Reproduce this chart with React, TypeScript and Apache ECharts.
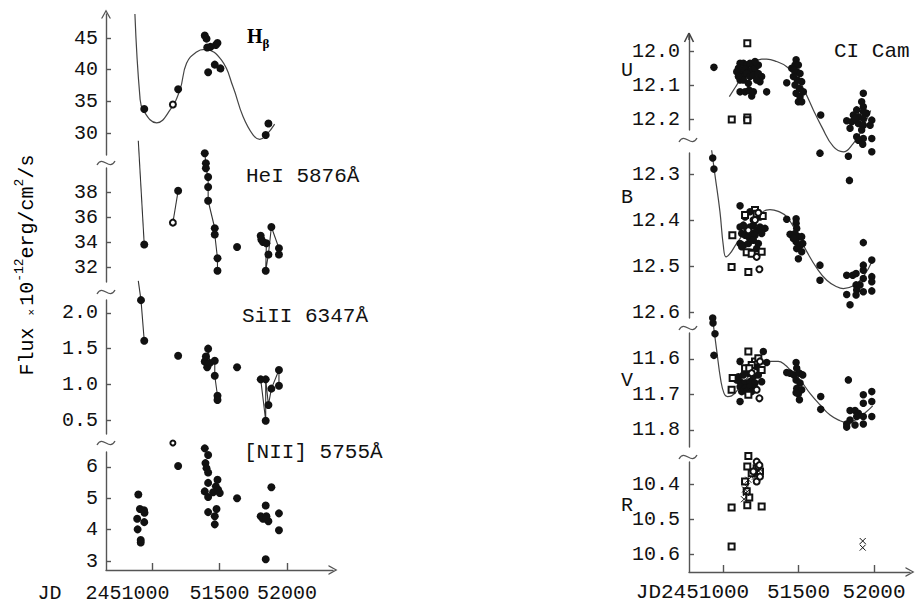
import React, { useEffect, useRef } from "react";
import * as echarts from "echarts";

// ---------- tick values ----------
const X_TICKS = [51000, 51500, 52000];
const HB_TICKS = [30, 35, 40, 45];
const HEI_TICKS = [32, 34, 36, 38];
const SI_TICKS = [0.5, 1.0, 1.5, 2.0];
const NII_TICKS = [3, 4, 5, 6];
const U_TICKS = [12.0, 12.1, 12.2];
const B_TICKS = [12.3, 12.4, 12.5, 12.6];
const V_TICKS = [11.6, 11.7, 11.8];
const R_TICKS = [10.4, 10.5, 10.6];

// ---------- left: line fluxes ----------
const hbFilled = [[50943, 33.8], [51194, 36.9], [51391, 45.4], [51404, 44.9], [51409, 43.5], [51433, 43.6], [51473, 43.9], [51485, 44.2], [51416, 39.6], [51465, 40.8], [51507, 40.2], [51842, 29.7], [51862, 31.5]];
const hbOpen = [[51155, 34.5]];
const hbCurve = [[50874, 48.8], [50911, 35.7], [50936, 33.6], [51035, 31.6], [51133, 33.6], [51207, 36.8], [51256, 41.0], [51330, 42.8], [51391, 43.2], [51515, 41.5], [51600, 37.3], [51674, 32.6], [51748, 29.7], [51798, 29.0], [51847, 29.7], [51908, 31.4]];

const heiLineA = [[50899, 42.1], [50943, 33.8]];
const heiLineB = [[51155, 35.55], [51194, 38.1]];
const heiLineC = [[51391, 41.1], [51399, 40.3], [51399, 39.9], [51416, 39.2], [51416, 38.4], [51416, 37.3], [51465, 35.1], [51465, 34.6], [51485, 32.7], [51485, 31.7]];
const heiLineD = [[51805, 34.5], [51810, 34.2], [51822, 34.0], [51847, 33.9], [51842, 31.7], [51862, 33.0], [51884, 35.2], [51940, 33.5], [51940, 33.0]];
const heiFilled = [[50943, 33.8], [51194, 38.1], ...heiLineC, [51630, 33.6], ...heiLineD];
const heiOpen = [[51155, 35.55]];

const siLineA = [[50899, 2.45], [50919, 2.18], [50943, 1.61]];
const siLineC = [[51391, 1.32], [51399, 1.39], [51409, 1.24], [51416, 1.50], [51428, 1.30], [51465, 1.33], [51465, 1.12], [51485, 0.84], [51485, 0.78]];
const siLineD = [[51805, 1.07], [51842, 0.49], [51842, 1.07], [51862, 0.71], [51884, 0.94], [51940, 1.20], [51940, 0.98]];
const siFilled = [[50919, 2.18], [50943, 1.61], [51194, 1.40], ...siLineC, [51630, 1.24], ...siLineD];

const niiFilled = [[50899, 5.12], [50911, 4.66], [50941, 4.62], [50945, 4.54], [50891, 4.35], [50943, 4.24], [50894, 4.01], [50917, 3.67], [50917, 3.59],
  [51194, 6.03],
  [51391, 6.59], [51416, 6.38], [51396, 6.12], [51404, 5.96], [51416, 5.82], [51416, 5.49], [51391, 5.22], [51416, 5.04], [51453, 5.19], [51485, 5.59], [51473, 5.38], [51490, 5.27], [51502, 5.17], [51416, 4.56], [51478, 4.66], [51465, 4.43], [51465, 4.17],
  [51630, 5.0],
  [51805, 4.43], [51822, 4.35], [51842, 4.77], [51847, 4.43], [51862, 4.27], [51847, 4.35], [51884, 5.35], [51940, 4.52], [51940, 3.98], [51842, 3.06]];
const niiOpen = [[51155, 6.76]];

// ---------- right: CI Cam photometry (magnitudes) ----------
const uFilled = [[50940, 12.048],
  [51113, 12.036], [51135, 12.036], [51157, 12.041], [51179, 12.036], [51201, 12.046], [51102, 12.051], [51124, 12.056], [51146, 12.054], [51168, 12.061], [51190, 12.056], [51212, 12.051], [51113, 12.071], [51135, 12.075], [51157, 12.066], [51179, 12.075], [51201, 12.071], [51234, 12.066], [51256, 12.075], [51245, 12.090], [51113, 12.085], [51135, 12.085], [51168, 12.095], [51223, 12.085], [51113, 12.120], [51146, 12.120], [51174, 12.115], [51190, 12.132], [51201, 12.120], [51289, 12.120], [51234, 12.041], [51212, 12.031], [51091, 12.061], [51102, 12.075],
  [51422, 12.093], [51455, 12.051], [51484, 12.026], [51477, 12.041], [51499, 12.041], [51488, 12.061], [51510, 12.066], [51466, 12.075], [51492, 12.085], [51521, 12.090], [51477, 12.100], [51506, 12.110], [51484, 12.124], [51510, 12.134], [51499, 12.149], [51532, 12.120], [51521, 12.149], [51470, 12.056],
  [51647, 12.188],
  [51929, 12.124], [51918, 12.149], [51929, 12.164], [51885, 12.173], [51951, 12.183], [51863, 12.188], [51896, 12.193], [51929, 12.198], [51985, 12.203], [51819, 12.205], [51852, 12.208], [51896, 12.213], [51929, 12.218], [51974, 12.218], [51841, 12.227], [51918, 12.232], [51885, 12.252], [51929, 12.257], [51985, 12.257], [51896, 12.262], [51874, 12.198], [51929, 12.178],
  [51642, 12.300], [51830, 12.309], [51985, 12.296], [51925, 12.274], [51837, 12.380]];
const uSquares = [[51161, 11.977], [51058, 12.201], [51161, 12.195], [51161, 12.203]];
const uCurve = [[51042, 12.134], [51091, 12.100], [51146, 12.061], [51201, 12.036], [51256, 12.024], [51289, 12.024], [51355, 12.031], [51422, 12.046], [51488, 12.075], [51543, 12.120], [51598, 12.173], [51653, 12.222], [51731, 12.281], [51797, 12.296], [51863, 12.271], [51907, 12.242], [51978, 12.175]];

const bFilled = [[50932, 12.265], [50940, 12.289], [51113, 12.369],
  [51113, 12.415], [51135, 12.411], [51157, 12.418], [51179, 12.415], [51201, 12.411], [51223, 12.422], [51245, 12.415], [51278, 12.418], [51124, 12.429], [51146, 12.433], [51168, 12.436], [51190, 12.429], [51212, 12.433], [51256, 12.429], [51113, 12.451], [51135, 12.455], [51168, 12.451], [51201, 12.444], [51234, 12.451], [51223, 12.462], [51190, 12.470], [51146, 12.393], [51179, 12.382], [51201, 12.400], [51245, 12.393], [51124, 12.458],
  [51422, 12.398], [51444, 12.431], [51484, 12.397], [51484, 12.407], [51488, 12.418], [51477, 12.429], [51499, 12.436], [51521, 12.436], [51484, 12.447], [51510, 12.455], [51488, 12.462], [51521, 12.469], [51499, 12.484], [51466, 12.440], [51528, 12.451],
  [51642, 12.498], [51642, 12.531],
  [51819, 12.520], [51859, 12.520], [51881, 12.516], [51929, 12.449], [51985, 12.487], [51929, 12.498], [51929, 12.509], [51929, 12.527], [51985, 12.523], [51985, 12.534], [51881, 12.541], [51929, 12.556], [51985, 12.554], [51819, 12.562], [51885, 12.552], [51881, 12.563], [51841, 12.584], [51907, 12.541]];
const bSquares = [[51062, 12.433], [51057, 12.502], [51168, 12.513], [51157, 12.470], [51256, 12.469], [51146, 12.389], [51212, 12.378], [51263, 12.391], [51190, 12.473], [51223, 12.386]];
const bCircles = [[51241, 12.507], [51223, 12.480], [51168, 12.422], [51212, 12.400], [51234, 12.384]];
const bCurve = [[50925, 12.248], [50947, 12.302], [50980, 12.382], [51002, 12.455], [51020, 12.480], [51046, 12.473], [51086, 12.453], [51180, 12.410], [51267, 12.381], [51311, 12.377], [51366, 12.381], [51422, 12.393], [51488, 12.427], [51554, 12.468], [51620, 12.504], [51687, 12.531], [51753, 12.545], [51797, 12.549], [51863, 12.543], [51929, 12.523], [51991, 12.487]];

const vFilled = [[50932, 11.485], [50934, 11.499], [50947, 11.529], [50940, 11.590],
  [51113, 11.607], [51267, 11.579],
  [51102, 11.650], [51135, 11.645], [51168, 11.640], [51201, 11.650], [51234, 11.645], [51256, 11.664], [51113, 11.664], [51146, 11.668], [51179, 11.664], [51212, 11.668], [51113, 11.678], [51146, 11.683], [51179, 11.678], [51212, 11.683], [51124, 11.692], [51157, 11.692], [51113, 11.720], [51190, 11.692], [51289, 11.610], [51245, 11.631], [51223, 11.621], [51091, 11.659],
  [51422, 11.638], [51444, 11.640], [51484, 11.610], [51488, 11.626], [51470, 11.645], [51506, 11.640], [51528, 11.645], [51484, 11.659], [51510, 11.668], [51488, 11.683], [51521, 11.687], [51499, 11.698], [51506, 11.715], [51484, 11.695],
  [51647, 11.706], [51647, 11.742], [51830, 11.659],
  [51819, 11.792], [51841, 11.745], [51874, 11.745], [51929, 11.701], [51985, 11.692], [51929, 11.725], [51985, 11.720], [51896, 11.753], [51929, 11.762], [51985, 11.762], [51841, 11.772], [51874, 11.786], [51929, 11.783], [51885, 11.762], [51819, 11.783]];
const vSquares = [[51168, 11.579], [51064, 11.654], [51057, 11.687], [51168, 11.701], [51256, 11.631], [51212, 11.607], [51234, 11.598], [51190, 11.617], [51146, 11.626], [51174, 11.626]];
const vCircles = [[51241, 11.711], [51223, 11.687], [51245, 11.607], [51190, 11.640]];
const vCurve = [[50932, 11.490], [50958, 11.575], [50985, 11.659], [51007, 11.697], [51029, 11.706], [51057, 11.704], [51113, 11.678], [51179, 11.645], [51245, 11.617], [51300, 11.607], [51366, 11.607], [51411, 11.617], [51444, 11.631], [51510, 11.659], [51576, 11.697], [51642, 11.729], [51709, 11.758], [51775, 11.774], [51819, 11.779], [51885, 11.770], [51951, 11.748], [51991, 11.732]];

const rSquares = [[51168, 10.318], [51057, 10.466], [51057, 10.578], [51256, 10.463], [51161, 10.348], [51161, 10.459], [51174, 10.437], [51146, 10.391], [51157, 10.419], [51190, 10.367], [51223, 10.353], [51245, 10.362]];
const rCrosses = [[51146, 10.414], [51152, 10.424], [51139, 10.442], [51157, 10.405], [51168, 10.386], [51212, 10.372], [51223, 10.367], [51234, 10.360], [51245, 10.356], [51212, 10.377], [51925, 10.562], [51925, 10.581]];
const rCircles = [[51223, 10.334], [51234, 10.348], [51223, 10.391], [51245, 10.377], [51241, 10.344], [51201, 10.362]];

// ---------- styling ----------
const MONO = '"Liberation Mono", "DejaVu Sans Mono", monospace';
const SERIF = '"Liberation Serif", "DejaVu Serif", serif';
const INK = "#111";
const AXIS = "#555";
const CHEVRON = "path://M0,9 L5,0 L10,9 L8.6,9 L5,2.4 L1.4,9 Z";
const CROSS = "path://M0,0 L8,8 M8,0 L0,8";

const LEFT = { left: 106, width: 227, min: 50660, max: 52340 };
const RIGHT = { left: 689, width: 221, min: 50775, max: 52238 };

const PANELS: any[] = [
  { side: LEFT, top: 14, height: 141, min: 26.53, max: 48.79, ticks: HB_TICKS, dec: 0, arrow: true },
  { side: LEFT, top: 168, height: 114, min: 30.8, max: 39.92, ticks: HEI_TICKS, dec: 0 },
  { side: LEFT, top: 300, height: 134, min: 0.304, max: 2.182, ticks: SI_TICKS, dec: 1 },
  { side: LEFT, top: 452, height: 119, min: 2.716, max: 6.474, ticks: NII_TICKS, dec: 0, bottom: true, jdText: "JD  2451000", jdPad: 97, xMargin: 13, xFont: 20 },
  { side: RIGHT, top: 35, height: 95, min: 11.953, max: 12.232, ticks: U_TICKS, dec: 1, inverse: true },
  { side: RIGHT, top: 153, height: 165, min: 12.254, max: 12.613, ticks: B_TICKS, dec: 1, inverse: true },
  { side: RIGHT, top: 333, height: 114, min: 11.527, max: 11.848, ticks: V_TICKS, dec: 1, inverse: true },
  { side: RIGHT, top: 462, height: 112, min: 10.335, max: 10.651, ticks: R_TICKS, dec: 1, inverse: true, bottom: true, jdText: "JD2451000", jdPad: 61, xMargin: 10, xFont: 21 },
];

function dots(i: number, data: number[][], size = 8) {
  return { type: "scatter", xAxisIndex: i, yAxisIndex: i, data, symbol: "circle", symbolSize: size, clip: false, silent: true, z: 3, itemStyle: { color: INK, opacity: 1 } };
}
function hollow(i: number, data: number[][], symbol: string, size = 6) {
  return { type: "scatter", xAxisIndex: i, yAxisIndex: i, data, symbol, symbolSize: size, clip: false, silent: true, z: 4, itemStyle: { color: INK, borderColor: INK, borderWidth: 1, opacity: 1 } };
}
function crosses(i: number, data: number[][], size = 6) {
  return { type: "scatter", xAxisIndex: i, yAxisIndex: i, data, symbol: CROSS, symbolSize: size, clip: false, silent: true, z: 4, itemStyle: { color: INK, borderColor: INK, borderWidth: 1, opacity: 1 } };
}
function line(i: number, data: number[][], smooth: boolean | number, color = "#444", width = 1.2) {
  return { type: "line", xAxisIndex: i, yAxisIndex: i, data, smooth, symbol: "none", clip: false, silent: true, z: 2, lineStyle: { color, width } };
}

function tilde(cx: number, cy: number) {
  return {
    type: "bezierCurve",
    shape: { x1: cx - 9, y1: cy + 2, x2: cx + 9, y2: cy - 2, cpx1: cx - 3, cpy1: cy - 9, cpx2: cx + 3, cpy2: cy + 9 },
    style: { stroke: AXIS, lineWidth: 1.3, fill: null },
  };
}
function label(text: string, x: number, y: number, size = 21) {
  return { type: "text", x, y, style: { text, fill: INK, font: `${size}px ${MONO}`, align: "left", verticalAlign: "middle" } };
}

function buildOption() {
  const lineStyle = { color: AXIS, width: 1.4 };
  const grid = PANELS.map((p) => ({ left: p.side.left, top: p.top, width: p.side.width, height: p.height, containLabel: false }));
  const xAxis = PANELS.map((p, i) => ({
    type: "value",
    gridIndex: i,
    min: p.side.min,
    max: p.side.max,
    show: !!p.bottom,
    splitLine: { show: false },
    axisLine: { show: true, symbol: ["none", CHEVRON], symbolSize: [10, 9], lineStyle },
    axisTick: { show: true, inside: true, length: 7, customValues: X_TICKS, lineStyle },
    axisLabel: {
      show: true,
      customValues: X_TICKS,
      margin: p.xMargin || 12,
      color: INK,
      fontFamily: MONO,
      fontSize: p.xFont || 20,
      formatter: (v: number) => (v === 51000 ? `{j|${p.jdText}}` : String(v)),
      rich: { j: { color: INK, fontFamily: MONO, fontSize: p.xFont || 20, padding: [0, p.jdPad || 0, 0, 0] } },
    },
  }));
  const yAxis = PANELS.map((p, i) => ({
    type: "value",
    gridIndex: i,
    min: p.min,
    max: p.max,
    inverse: !!p.inverse,
    splitLine: { show: false },
    axisLine: {
      show: true,
      symbol: p.arrow ? ["none", CHEVRON] : "none",
      symbolSize: [10, 9],
      lineStyle,
    },
    axisTick: { show: true, inside: true, length: 5, customValues: p.ticks, lineStyle },
    axisLabel: {
      customValues: p.ticks,
      margin: p.side === LEFT ? 8 : 9,
      color: INK,
      fontFamily: MONO,
      fontSize: 20,
      formatter: (v: number) => v.toFixed(p.dec),
    },
  }));

  const series: any[] = [
    line(0, hbCurve, 0.45),
    dots(0, hbFilled),
    hollow(0, hbOpen, "emptyCircle", 6),
    line(1, heiLineA, false, "#333", 1.1),
    line(1, heiLineB, false, "#333", 1.1),
    line(1, heiLineC, false, "#333", 1.1),
    line(1, heiLineD, false, "#333", 1.1),
    dots(1, heiFilled),
    hollow(1, heiOpen, "emptyCircle", 6),
    line(2, siLineA, false, "#333", 1.1),
    line(2, siLineC, false, "#333", 1.1),
    line(2, siLineD, false, "#333", 1.1),
    dots(2, siFilled),
    dots(3, niiFilled),
    hollow(3, niiOpen, "emptyCircle", 5),
    line(4, uCurve, 0.45),
    dots(4, uFilled, 7.5),
    hollow(4, uSquares, "emptyRect", 6),
    line(5, bCurve, 0.45),
    dots(5, bFilled, 7.5),
    hollow(5, bSquares, "emptyRect", 6),
    hollow(5, bCircles, "emptyCircle", 6),
    line(6, vCurve, 0.45),
    dots(6, vFilled, 7.5),
    hollow(6, vSquares, "emptyRect", 6),
    hollow(6, vCircles, "emptyCircle", 6),
    hollow(7, rSquares, "emptyRect", 6),
    crosses(7, rCrosses, 6),
    hollow(7, rCircles, "emptyCircle", 6),
  ];

  const graphic: any[] = [
    tilde(106, 163), tilde(106, 292), tilde(106, 443),
    tilde(688, 140), tilde(688, 328), tilde(688, 457),
    // open arrow head on top of the U-band (inverted) axis
    { type: "line", z: 100, shape: { x1: 684.5, y1: 42, x2: 689, y2: 33 }, style: { stroke: "#444", lineWidth: 1.6 } },
    { type: "line", z: 100, shape: { x1: 693.5, y1: 42, x2: 689, y2: 33 }, style: { stroke: "#444", lineWidth: 1.6 } },
    { type: "line", z: 100, shape: { x1: 689, y1: 33, x2: 689, y2: 40 }, style: { stroke: "#444", lineWidth: 1.4 } },
    {
      type: "text", x: 247, y: 35,
      style: {
        text: "{h|H}{b|β}",
        verticalAlign: "middle",
        rich: {
          h: { fontFamily: SERIF, fontWeight: "bold", fontSize: 20, color: INK, lineHeight: 22, verticalAlign: "bottom" },
          b: { fontFamily: SERIF, fontWeight: "bold", fontSize: 13, color: INK, lineHeight: 22, verticalAlign: "bottom", padding: [0, 0, -4, 0] },
        },
      },
    },
    label("HeI 5876Å", 246, 176),
    label("SiII 6347Å", 242, 316),
    label("[NII] 5755Å", 244, 452),
    label("CI Cam", 834, 51),
    label("U", 621, 70, 20),
    label("B", 621, 197, 20),
    label("V", 621, 380, 20),
    label("R", 621, 505, 20),
    {
      type: "text", x: 25, y: 265, rotation: Math.PI / 2,
      style: {
        text: "{t|Flux }{s|×}{t|10}{p|-12}{t|erg/cm}{p|2}{t|/s}",
        align: "center",
        verticalAlign: "middle",
        rich: {
          t: { fontFamily: MONO, fontSize: 20, color: INK, lineHeight: 24, verticalAlign: "bottom" },
          s: { fontFamily: MONO, fontSize: 11, color: INK, lineHeight: 24, verticalAlign: "bottom", padding: [0, 3, 0, 0] },
          p: { fontFamily: MONO, fontSize: 13, color: INK, lineHeight: 24, verticalAlign: "top" },
        },
      },
    },
  ];

  return { animation: false, backgroundColor: "#fff", grid, xAxis, yAxis, series, graphic };
}

export default function App() {
  const ref = useRef<HTMLDivElement>(null);
  useEffect(() => {
    document.body.style.margin = "0";
    const chart = echarts.init(ref.current as HTMLDivElement, null, { renderer: "svg" });
    chart.setOption(buildOption() as any);
    return () => chart.dispose();
  }, []);
  return <div ref={ref} style={{ width: 916, height: 603 }} />;
}
